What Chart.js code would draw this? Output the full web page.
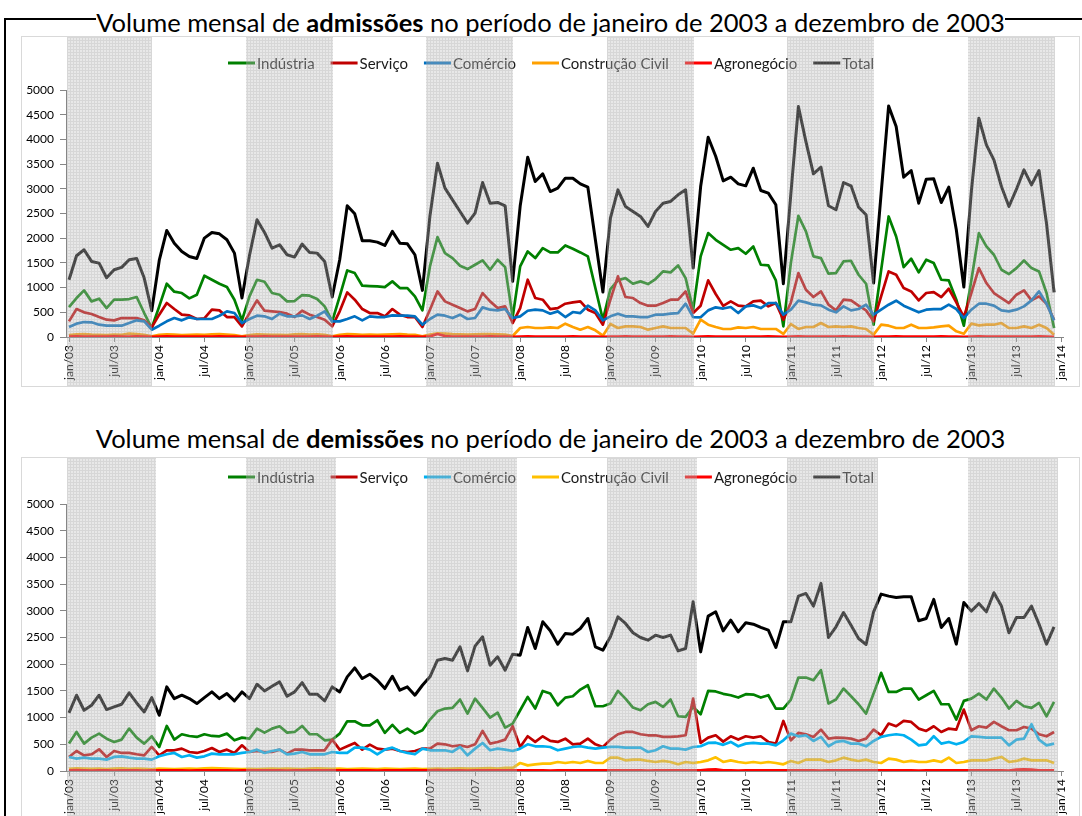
<!DOCTYPE html>
<html lang="pt-BR">
<head>
<meta charset="utf-8">
<title>Admissões e demissões mensais</title>
<script src="https://cdn.jsdelivr.net/npm/chart.js@4.4.1/dist/chart.umd.min.js"></script>
<style>
  html, body { margin: 0; padding: 0; background: #fff; }
  body { width: 1082px; height: 816px; overflow: hidden; position: relative; font-family: Lato, sans-serif; }
  .moldura { position: absolute; left: 4px; top: 18px; width: 1080px; height: 820px; border-left: 2px solid #000; border-top: 2px solid #000; }
  .titulo { position: absolute; left: 21px; width: 1059px; text-align: center; font-size: 25.5px; line-height: 30px; color: #000; white-space: nowrap; }
  .titulo span { background: #fff; }
  .caixa { position: absolute; left: 21px; width: 1057px; border: 1px solid #d9d9d9; background: #fff; }
  .caixa canvas { display: block; }
</style>
</head>
<body>
<div class="moldura"></div>

<div class="titulo" style="top:7px"><span>Volume mensal de <b>admissões</b> no período de janeiro de 2003 a dezembro de 2003</span></div>
<div class="caixa" style="top:36px; height:349px"><canvas id="graficoAdmissoes" width="1057" height="349"></canvas></div>

<div class="titulo" style="top:423px"><span>Volume mensal de <b>demissões</b> no período de janeiro de 2003 a dezembro de 2003</span></div>
<div class="caixa" style="top:457px; height:400px"><canvas id="graficoDemissoes" width="1057" height="362"></canvas></div>

<script>
// Rótulos do eixo X (um a cada 6 meses, de jan/03 a jan/14)
const rotulosX = ['jan/03', 'jul/03', 'jan/04', 'jul/04', 'jan/05', 'jul/05', 'jan/06', 'jul/06',
    'jan/07', 'jul/07', 'jan/08', 'jul/08', 'jan/09', 'jul/09', 'jan/10', 'jul/10',
    'jan/11', 'jul/11', 'jan/12', 'jul/12', 'jan/13', 'jul/13', 'jan/14'];

const nomesSeries = ['Indústria', 'Serviço', 'Comércio', 'Construção Civil', 'Agronegócio', 'Total'];

// ---- Admissões (jan/03 .. dez/13, uma linha por ano) ----
const admIndustria = [
    607, 789, 944, 721, 775, 586, 755, 755, 768, 809, 485, 182,
    620, 1078, 917, 890, 782, 856, 1240, 1159, 1078, 1011, 755, 337,
    822, 1159, 1119, 890, 856, 721, 728, 849, 836, 768, 620, 317,
    822, 1348, 1294, 1038, 1031, 1024, 1011, 1126, 991, 991, 822, 539,
    1429, 2022, 1698, 1597, 1442, 1375, 1463, 1550, 1361, 1564, 1415, 404,
    1429, 1732, 1597, 1800, 1712, 1712, 1853, 1786, 1712, 1631, 991, 350,
    971, 1146, 1193, 1078, 1126, 1072, 1173, 1328, 1308, 1449, 1193, 553,
    1631, 2103, 1968, 1867, 1766, 1800, 1685, 1833, 1463, 1449, 1146, 216,
    1500, 2453, 2137, 1631, 1597, 1281, 1294, 1530, 1543, 1260, 1078, 249,
    1348, 2440, 2035, 1415, 1584, 1308, 1564, 1496, 1159, 1146, 755, 229,
    1150, 2103, 1833, 1665, 1361, 1274, 1395, 1550, 1395, 1328, 890, 182
];
const admServico = [
    317, 566, 499, 465, 404, 350, 337, 384, 384, 384, 337, 195,
    452, 688, 566, 452, 438, 364, 377, 553, 539, 404, 404, 216,
    485, 741, 532, 519, 506, 472, 404, 532, 452, 404, 350, 216,
    519, 903, 755, 566, 485, 485, 418, 566, 452, 404, 404, 202,
    553, 923, 721, 654, 586, 519, 566, 890, 721, 586, 620, 283,
    586, 1159, 789, 755, 566, 586, 674, 701, 721, 553, 485, 249,
    755, 1227, 809, 789, 688, 634, 634, 688, 755, 755, 923, 485,
    634, 1146, 870, 630, 721, 634, 620, 721, 735, 620, 688, 350,
    700, 1294, 957, 809, 923, 654, 539, 755, 741, 634, 539, 317,
    822, 1328, 1260, 991, 923, 741, 890, 910, 809, 977, 701, 404,
    890, 1395, 1092, 890, 789, 688, 856, 944, 741, 822, 674, 350
];
const admComercio = [
    202, 270, 303, 297, 249, 229, 229, 229, 283, 337, 317, 148,
    229, 317, 384, 337, 398, 364, 364, 364, 431, 519, 485, 283,
    364, 431, 418, 364, 472, 418, 418, 438, 364, 431, 519, 317,
    317, 364, 418, 337, 418, 404, 404, 438, 431, 431, 418, 249,
    364, 452, 431, 384, 452, 364, 384, 600, 553, 539, 566, 384,
    418, 532, 553, 539, 472, 519, 404, 506, 485, 634, 539, 337,
    418, 472, 418, 418, 404, 404, 452, 452, 472, 485, 674, 404,
    398, 539, 600, 576, 607, 485, 620, 640, 586, 688, 688, 452,
    553, 735, 701, 654, 640, 553, 499, 620, 539, 566, 654, 452,
    553, 654, 735, 634, 566, 499, 553, 566, 566, 654, 566, 384,
    553, 674, 674, 634, 539, 519, 553, 620, 741, 923, 674, 337
];
const admConstrucao = [
    40, 55, 60, 50, 45, 40, 50, 45, 70, 60, 45, 15,
    45, 55, 50, 40, 45, 50, 45, 55, 60, 50, 40, 15,
    40, 55, 50, 45, 45, 40, 55, 60, 50, 55, 45, 15,
    45, 60, 55, 45, 50, 45, 50, 55, 60, 50, 45, 15,
    50, 75, 70, 60, 55, 50, 55, 60, 60, 55, 50, 20,
    182, 202, 182, 182, 195, 182, 270, 202, 148, 202, 135, 27,
    263, 182, 216, 216, 202, 148, 182, 216, 182, 182, 182, 67,
    350, 249, 202, 162, 162, 195, 182, 202, 162, 162, 162, 61,
    263, 162, 202, 202, 283, 202, 216, 202, 216, 182, 162, 47,
    249, 229, 182, 182, 249, 182, 182, 195, 216, 229, 115, 67,
    270, 236, 249, 249, 283, 182, 182, 216, 182, 249, 182, 47
];
const admAgro = [
    10, 12, 10, 8, 10, 10, 12, 10, 10, 12, 10, 5,
    10, 12, 10, 10, 8, 10, 10, 10, 12, 10, 10, 5,
    10, 10, 12, 10, 10, 8, 10, 10, 10, 12, 10, 5,
    10, 12, 10, 10, 10, 8, 10, 10, 12, 10, 10, 5,
    12, 60, 20, 10, 10, 8, 10, 10, 12, 10, 10, 5,
    10, 12, 10, 10, 8, 10, 10, 12, 10, 10, 10, 5,
    10, 10, 12, 10, 10, 8, 10, 10, 12, 10, 10, 5,
    10, 12, 10, 10, 10, 8, 10, 10, 10, 12, 10, 5,
    10, 12, 10, 10, 8, 10, 10, 12, 10, 10, 10, 5,
    10, 10, 12, 10, 10, 8, 10, 10, 12, 10, 10, 5,
    10, 12, 10, 10, 10, 8, 10, 10, 10, 12, 10, 5
];
const admTotal = [
    1159, 1645, 1766, 1530, 1496, 1200, 1361, 1409, 1564, 1590, 1193, 532,
    1550, 2157, 1900, 1732, 1631, 1590, 2002, 2116, 2089, 1968, 1698, 789,
    1650, 2372, 2116, 1800, 1867, 1665, 1618, 1880, 1712, 1698, 1530, 809,
    1564, 2656, 2494, 1948, 1948, 1921, 1853, 2137, 1900, 1887, 1665, 944,
    2450, 3518, 3013, 2777, 2541, 2305, 2507, 3127, 2709, 2723, 2656, 1126,
    2650, 3640, 3148, 3303, 2945, 3013, 3215, 3215, 3100, 3033, 1968, 910,
    2406, 2979, 2642, 2541, 2440, 2238, 2541, 2709, 2743, 2878, 2979, 1395,
    3046, 4044, 3660, 3160, 3235, 3100, 3060, 3417, 2966, 2912, 2676, 1078,
    2900, 4664, 3956, 3303, 3437, 2656, 2575, 3127, 3060, 2629, 2474, 1092,
    2900, 4678, 4260, 3235, 3370, 2709, 3194, 3201, 2723, 3033, 2170, 1011,
    2950, 4428, 3889, 3585, 3046, 2642, 2992, 3383, 3080, 3370, 2292, 903
];

// ---- Demissões ----
const demIndustria = [
    513, 731, 513, 625, 700, 606, 544, 588, 794, 625, 513, 650,
    450, 844, 588, 688, 656, 638, 688, 656, 650, 700, 575, 625,
    606, 794, 719, 794, 838, 719, 731, 844, 688, 688, 575, 588,
    700, 931, 931, 856, 856, 950, 713, 865, 713, 794, 700, 763,
    963, 1119, 1169, 1181, 1338, 1075, 1356, 1181, 1000, 1094, 813, 888,
    1138, 1388, 1169, 1500, 1450, 1231, 1375, 1400, 1525, 1606, 1213, 1213,
    1263, 1500, 1356, 1188, 1138, 1250, 1294, 1200, 1338, 1025, 1013, 1200,
    1063, 1500, 1490, 1445, 1419, 1375, 1438, 1431, 1375, 1419, 1169, 1169,
    1338, 1750, 1750, 1700, 1888, 1263, 1338, 1544, 1400, 1250, 1075, 1450,
    1838, 1481, 1481, 1544, 1544, 1338, 1419, 1500, 1250, 1250, 963, 1313,
    1356, 1450, 1338, 1544, 1375, 1169, 1313, 1213, 1181, 1275, 1025, 1294
];
const demServico = [
    263, 375, 294, 313, 406, 263, 375, 338, 338, 313, 294, 450,
    294, 388, 388, 419, 356, 338, 375, 431, 356, 400, 338, 481,
    356, 375, 356, 356, 400, 325, 400, 400, 388, 388, 388, 588,
    400, 463, 525, 400, 494, 419, 400, 419, 375, 356, 375, 419,
    419, 513, 500, 463, 481, 450, 500, 750, 513, 544, 588, 838,
    450, 650, 544, 650, 563, 544, 606, 500, 513, 606, 500, 450,
    588, 688, 731, 731, 688, 669, 669, 638, 638, 650, 669, 1356,
    525, 625, 669, 550, 650, 588, 650, 625, 650, 544, 513, 938,
    575, 713, 688, 638, 775, 606, 625, 619, 606, 563, 606, 775,
    669, 888, 838, 938, 919, 794, 750, 838, 731, 794, 775, 1150,
    763, 838, 813, 919, 838, 763, 763, 825, 794, 688, 650, 731
];
const demComercio = [
    263, 231, 250, 231, 231, 213, 263, 275, 250, 231, 231, 213,
    275, 313, 338, 263, 294, 250, 275, 325, 313, 313, 313, 338,
    356, 400, 338, 375, 400, 313, 325, 356, 313, 313, 313, 356,
    338, 338, 438, 438, 400, 313, 400, 438, 375, 338, 313, 419,
    388, 388, 388, 356, 450, 294, 419, 525, 388, 419, 400, 375,
    419, 500, 463, 463, 450, 388, 419, 450, 463, 438, 419, 438,
    450, 450, 438, 438, 438, 356, 388, 463, 419, 419, 400, 450,
    463, 525, 530, 490, 544, 463, 513, 525, 513, 513, 481, 575,
    700, 650, 669, 563, 638, 463, 544, 563, 513, 513, 463, 563,
    638, 669, 688, 669, 588, 481, 500, 650, 513, 544, 500, 544,
    650, 638, 625, 625, 625, 481, 588, 606, 875, 588, 481, 513
];
const demConstrucao = [
    40, 50, 45, 40, 45, 35, 45, 50, 40, 45, 40, 30,
    45, 40, 35, 40, 45, 40, 50, 55, 50, 45, 40, 35,
    40, 35, 40, 45, 40, 45, 40, 35, 45, 50, 45, 40,
    45, 35, 40, 45, 40, 35, 45, 40, 35, 40, 45, 35,
    40, 45, 40, 45, 50, 45, 45, 50, 55, 45, 60, 60,
    150, 106, 125, 138, 138, 169, 150, 169, 150, 188, 150, 150,
    250, 250, 200, 213, 213, 188, 169, 188, 169, 125, 169, 150,
    169, 200, 256, 169, 200, 169, 150, 169, 150, 169, 150, 125,
    188, 150, 213, 213, 213, 169, 200, 250, 213, 188, 213, 169,
    150, 231, 213, 169, 188, 169, 169, 200, 169, 250, 150, 169,
    200, 200, 200, 231, 263, 169, 188, 231, 200, 200, 200, 150
];
const demAgro = [
    10, 15, 10, 8, 12, 10, 8, 10, 12, 10, 8, 10,
    10, 12, 10, 10, 8, 10, 10, 12, 10, 10, 8, 10,
    10, 10, 12, 10, 10, 8, 10, 10, 12, 10, 10, 10,
    10, 12, 10, 10, 10, 8, 10, 10, 12, 10, 10, 10,
    12, 15, 12, 10, 10, 8, 10, 10, 12, 10, 10, 10,
    10, 12, 10, 10, 8, 10, 10, 12, 10, 10, 10, 10,
    10, 10, 12, 10, 10, 8, 10, 10, 12, 10, 10, 10,
    10, 25, 30, 12, 10, 8, 10, 10, 10, 12, 10, 10,
    10, 12, 10, 10, 8, 10, 10, 12, 10, 10, 10, 10,
    10, 10, 12, 10, 10, 8, 10, 10, 12, 10, 10, 10,
    10, 12, 10, 10, 10, 8, 25, 30, 25, 12, 10, 10
];
const demTotal = [
    1088, 1419, 1138, 1231, 1419, 1150, 1200, 1250, 1463, 1275, 1106, 1375,
    1044, 1575, 1356, 1419, 1356, 1263, 1375, 1481, 1356, 1450, 1313, 1481,
    1356, 1625, 1500, 1588, 1669, 1400, 1481, 1656, 1438, 1438, 1313, 1575,
    1481, 1763, 1931, 1731, 1813, 1700, 1544, 1775, 1513, 1575, 1419, 1606,
    1763, 2075, 2106, 2075, 2325, 1875, 2338, 2513, 1981, 2138, 1888, 2188,
    2169, 2688, 2294, 2794, 2625, 2375, 2575, 2563, 2669, 2856, 2325, 2263,
    2513, 2888, 2763, 2588, 2500, 2450, 2544, 2500, 2544, 2250, 2294, 3169,
    2231, 2900, 2981, 2625, 2825, 2606, 2775, 2750, 2688, 2638, 2313, 2794,
    2794, 3275, 3325, 3088, 3513, 2500, 2700, 2969, 2731, 2481, 2369, 2981,
    3313, 3275, 3250, 3263, 3263, 2813, 2856, 3213, 2688, 2856, 2375, 3156,
    2994, 3138, 2981, 3338, 3088, 2588, 2875, 2875, 3088, 2750, 2375, 2700
];

const CORES_ADM = ['#008000', '#c00000', '#0070c0', '#ffa000', '#ff0000', '#000000'];
const CORES_DEM = ['#008000', '#c00000', '#00b0f0', '#ffc000', '#ff0000', '#000000'];
const CINZA_EIXO = '#868686';

// padrão de "grade fina" das faixas dos anos ímpares (desenhado por cima, semitransparente)
function criarPadrao(ctx) {
    const tile = document.createElement('canvas');
    tile.width = 3;
    tile.height = 3;
    const t = tile.getContext('2d');
    t.fillStyle = 'rgba(190,190,190,0.36)';
    t.fillRect(1, 1, 2, 2);
    t.fillStyle = 'rgba(168,168,168,0.46)';
    t.fillRect(0, 0, 3, 1);
    t.fillRect(0, 1, 1, 2);
    return ctx.createPattern(tile, 'repeat');
}

const pluginFaixas = {
    id: 'faixasAnos',
    // legenda desenhada à mão, centralizada no topo
    afterDatasetsDraw(chart, args, opts) {
        const ctx = chart.ctx;
        ctx.save();
        ctx.font = '15px Lato';
        ctx.textBaseline = 'middle';
        const amostra = 27, gapTexto = 2, gapItem = 16;
        const larguras = nomesSeries.map(n => ctx.measureText(n).width);
        const total = larguras.reduce((a, b) => a + b, 0) + nomesSeries.length * (amostra + gapTexto) + (nomesSeries.length - 1) * gapItem;
        let x = opts.centroLegenda - total / 2;
        const y = opts.yLegenda;
        nomesSeries.forEach((nome, k) => {
            ctx.strokeStyle = opts.cores[k];
            ctx.lineWidth = 3;
            ctx.beginPath();
            ctx.moveTo(x, y);
            ctx.lineTo(x + amostra, y);
            ctx.stroke();
            ctx.fillStyle = '#1a1a1a';
            ctx.fillText(nome, x + amostra + gapTexto, y + 1);
            x += amostra + gapTexto + larguras[k] + gapItem;
        });
        ctx.restore();
    },
    afterDraw(chart, args, opts) {
        const ctx = chart.ctx;
        const xs = chart.scales.x;
        const area = chart.chartArea;
        if (!chart.$padrao) chart.$padrao = criarPadrao(ctx);
        ctx.save();
        ctx.fillStyle = chart.$padrao;
        for (let ano = 0; ano < 11; ano += 2) {
            let x1 = xs.getPixelForValue(ano * 12 + opts.inicio);
            let x2 = xs.getPixelForValue(ano * 12 + 11 + opts.fim);
            x1 = Math.max(Math.round(x1), area.left + 1);
            x2 = Math.round(x2);
            ctx.fillRect(x1, 0, x2 - x1, chart.height);
        }
        ctx.restore();
    }
};

function criarGrafico(idCanvas, series, cores, cfg) {
    const ctx = document.getElementById(idCanvas).getContext('2d');
    const meses = series[0].map((_, i) => i);
    const ordem = [6, 5, 4, 3, 2, 1];

    return new Chart(ctx, {
        type: 'line',
        data: {
            labels: meses,
            datasets: series.map((valores, k) => ({
                label: nomesSeries[k],
                data: valores,
                borderColor: cores[k],
                backgroundColor: cores[k],
                borderWidth: k === 5 ? 3 : 2.7,
                pointRadius: 0,
                tension: 0,
                borderJoinStyle: 'round',
                order: ordem[k]
            }))
        },
        options: {
            responsive: false,
            animation: false,
            devicePixelRatio: 1,
            layout: { padding: { top: cfg.topo, right: 11, left: 0, bottom: 0 } },
            plugins: {
                legend: { display: false },
                tooltip: { enabled: false },
                faixasAnos: {
                    cores: cores,
                    centroLegenda: 529,
                    yLegenda: cfg.yLegenda,
                    inicio: cfg.inicio,
                    fim: cfg.fim
                }
            },
            scales: {
                x: {
                    type: 'linear',
                    min: -0.4,
                    max: 132.2,
                    afterBuildTicks: (eixo) => { eixo.ticks = rotulosX.map((r, k) => ({ value: k * 6 })); },
                    afterFit: (eixo) => { eixo.height = cfg.alturaX; },
                    ticks: {
                        autoSkip: false,
                        maxRotation: 90,
                        minRotation: 90,
                        padding: 3,
                        color: '#000',
                        font: { size: 12 },
                        callback: (v) => rotulosX[Math.round(v / 6)]
                    },
                    grid: { display: true, drawOnChartArea: false, drawTicks: true, tickLength: 5, color: CINZA_EIXO },
                    border: { display: true, color: CINZA_EIXO }
                },
                y: {
                    min: 0,
                    max: 5000,
                    afterFit: (eixo) => { eixo.width = 44; },
                    ticks: {
                        stepSize: 500,
                        padding: 6,
                        color: '#000',
                        font: { size: 12 },
                        callback: (v) => String(v)
                    },
                    grid: { display: true, drawOnChartArea: false, drawTicks: true, tickLength: 6, color: CINZA_EIXO },
                    border: { display: true, color: CINZA_EIXO }
                }
            }
        },
        plugins: [pluginFaixas]
    });
}

Chart.defaults.font.family = 'Lato, sans-serif';

criarGrafico('graficoAdmissoes',
    [admIndustria, admServico, admComercio, admConstrucao, admAgro, admTotal],
    CORES_ADM,
    { topo: 53, alturaX: 49, yLegenda: 26, inicio: -0.5, fim: 0.1 });

criarGrafico('graficoDemissoes',
    [demIndustria, demServico, demComercio, demConstrucao, demAgro, demTotal],
    CORES_DEM,
    { topo: 46, alturaX: 49, yLegenda: 19, inicio: -0.45, fim: 0.55 });
</script>
</body>
</html>
